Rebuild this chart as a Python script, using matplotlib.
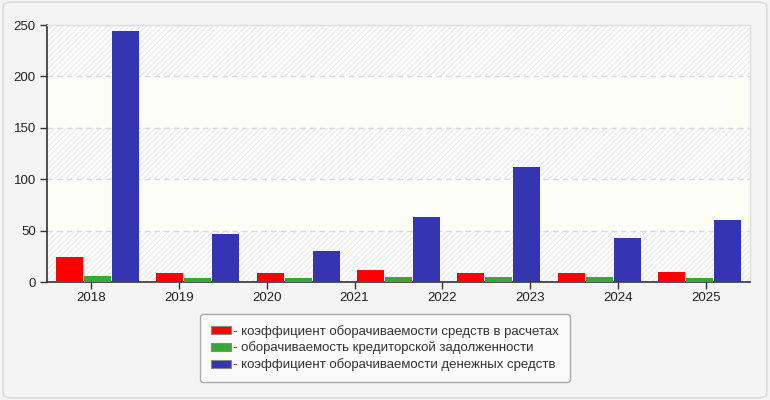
import matplotlib
matplotlib.use("Agg")
import matplotlib.pyplot as plt
from matplotlib.patches import Rectangle, FancyBboxPatch
import numpy as np

years = ["2018", "2019", "2020", "2021", "2022", "2023", "2024", "2025"]
series_names = [
    "- коэффициент оборачиваемости средств в расчетах",
    "- оборачиваемость кредиторской задолженности",
    "- коэффициент оборачиваемости денежных средств",
]
receivables = [24.5, 9.0, 9.0, 12.0, 9.0, 9.0, 10.0]
payables = [6.0, 4.2, 4.2, 5.2, 5.0, 5.0, 4.0]
cash = [244.0, 47.0, 30.5, 64.0, 112.0, 43.0, 60.5]
yticks = [0, 50, 100, 150, 200, 250]
colors = ["#ff0000", "#36a836", "#3535b2"]

plt.rcParams['font.family'] = ['Liberation Sans', 'DejaVu Sans']
plt.rcParams['hatch.linewidth'] = 0.7

fig = plt.figure(figsize=(7.7, 4.0), dpi=100)
fig.patch.set_facecolor("#f4f4f4")
border = FancyBboxPatch((0.004, 0.005), 0.992, 0.99, boxstyle="round,pad=0,rounding_size=0.012",
                        transform=fig.transFigure, facecolor="none", edgecolor="#dcdcdc", lw=1.2)
fig.patches.append(border)

ax = fig.add_axes([0.061, 0.294, 0.913, 0.6435])
ax.set_facecolor("white")
ax.set_ylim(0, 250)
n = len(cash)
ax.set_xlim(-0.5, n - 0.5)

# background bands
for lo in range(0, 250, 50):
    if (lo // 50) % 2 == 1:
        ax.axhspan(lo, lo + 50, facecolor="#fcfdf6", edgecolor="none", zorder=0)
    else:
        ax.add_patch(Rectangle((-0.5, lo), n, 50, facecolor="white", edgecolor="#e4e4e4",
                               hatch="//////", lw=0, zorder=0))

x = np.arange(n)
w = 0.269
step = 0.279
for i, (vals, c) in enumerate(zip([receivables, payables, cash], colors)):
    ax.bar(x + (i - 1) * step, vals, width=w, color=c, edgecolor="none", zorder=3,
           label=series_names[i])

ax.set_yticks(yticks)
ax.set_yticklabels([str(v) for v in yticks], fontsize=9.5, color="#222222")
ax.yaxis.grid(True, linestyle=(0, (4, 3)), color="#d8d8d8", lw=1, zorder=1)
ax.set_xticks([])
ax.tick_params(axis="y", length=5, width=1, color="#333333", pad=3)

for s in ["left", "bottom"]:
    ax.spines[s].set_color("#333333")
    ax.spines[s].set_linewidth(1.2)
for s in ["top", "right"]:
    ax.spines[s].set_color("#dddddd")
    ax.spines[s].set_linewidth(1)

ax2 = ax.twiny()
ax2.set_xlim(-0.5, len(years) - 0.5)
ax2.set_xticks(range(len(years)))
ax2.set_xticklabels(years, fontsize=9.5, color="#222222")
ax2.xaxis.set_ticks_position("bottom")
ax2.xaxis.set_label_position("bottom")
ax2.tick_params(axis="x", length=5, width=1, color="#333333", pad=2)
ax2.xaxis.grid(True, linestyle=(0, (4, 3)), color="#d8d8d8", lw=1)
ax2.set_axisbelow(True)
for s in ax2.spines.values():
    s.set_visible(False)
ax.set_zorder(1)
ax2.set_zorder(0)
ax.patch.set_visible(True)

handles, labels = ax.get_legend_handles_labels()
leg = fig.legend(handles, labels, loc="center", bbox_to_anchor=(0.5, 0.13), fontsize=9.5,
                 frameon=True, fancybox=True, facecolor="#fafafa", edgecolor="#aaaaaa",
                 handlelength=1.5, handleheight=0.6, handletextpad=0.2, labelspacing=0.3,
                 borderpad=0.8, framealpha=1)
for h in leg.legend_handles:
    h.set_edgecolor("#888888")
    h.set_linewidth(0.8)
for t in leg.get_texts():
    t.set_color("#333333")

fig.savefig("out.png", dpi=100, facecolor=fig.get_facecolor())
